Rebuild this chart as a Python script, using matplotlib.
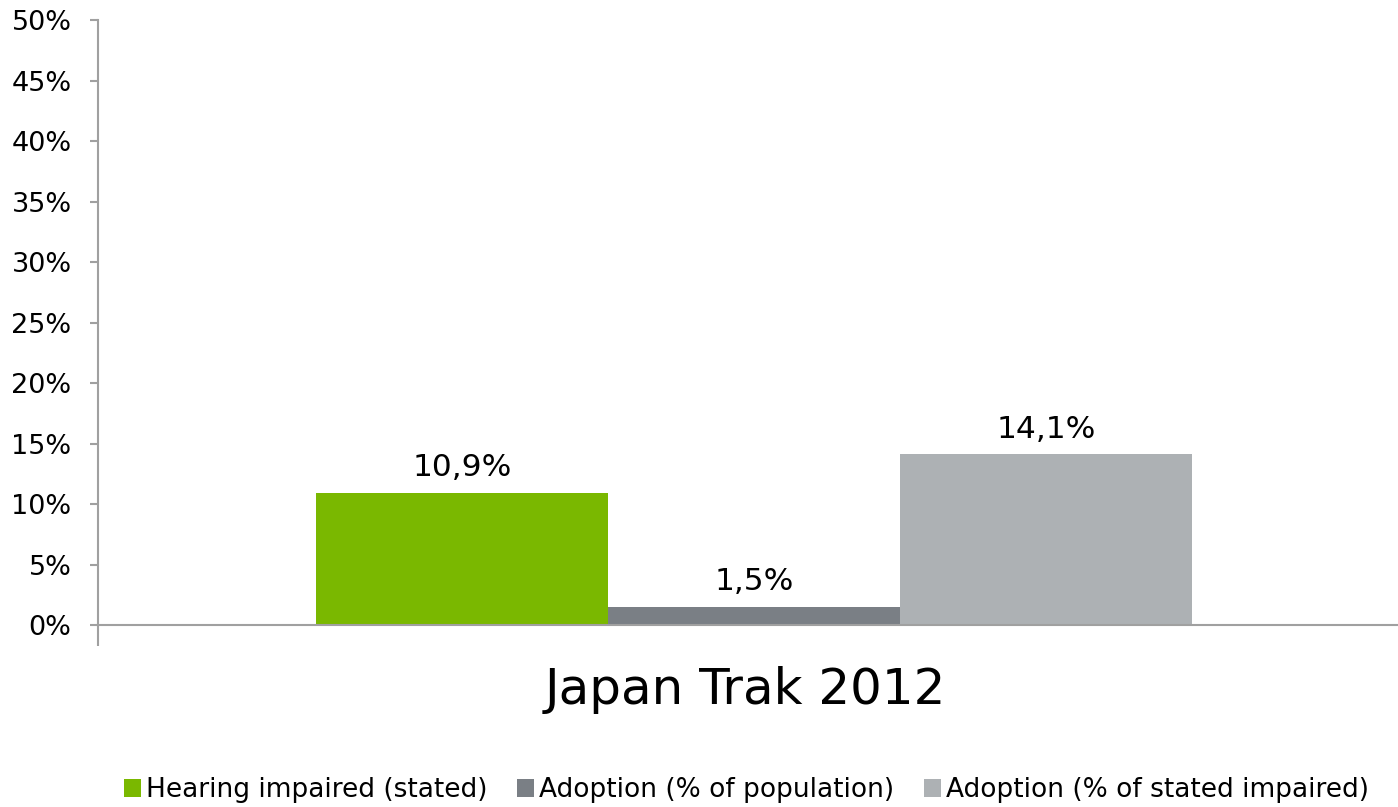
import numpy as np
import matplotlib.pyplot as plt
from matplotlib.ticker import MultipleLocator, PercentFormatter
from matplotlib.patches import Patch

# data
category = 'Japan Trak 2012'
series = ['Hearing impaired (stated)', 'Adoption (% of population)',
          'Adoption (% of stated impaired)']
values = [10.9, 1.5, 14.1]
value_labels = ['10,9%', '1,5%', '14,1%']
colors = ['#7AB800', '#7A7F85', '#ADB1B4']

fig = plt.figure(figsize=(13.98, 8.07), dpi=100)
# plot area runs a little past the right edge of the image
ax = fig.add_axes([0.0701, 0.2255, 0.9385, 0.7497])

width = 0.2226
offsets = (np.arange(len(values)) - 1) * width
for off, v, lab, c in zip(offsets, values, value_labels, colors):
    ax.bar(off, v, width=width, color=c, edgecolor='none')
    ax.text(off, v + 0.9, lab, ha='center', va='bottom', fontsize=22.5)

ax.set_xlim(-0.5, 0.5)
ax.set_ylim(0, 50)
ax.yaxis.set_major_locator(MultipleLocator(5))
ax.yaxis.set_major_formatter(PercentFormatter(decimals=0))

# category boundaries as ticks, category name under the axis
ax.set_xticks([-0.5, 0.5])
ax.set_xticklabels(['', ''])
ax.annotate(category, xy=(0, 0), xycoords=('data', 'axes fraction'),
            xytext=(-6.5, -47), textcoords='offset points',
            ha='center', va='center', fontsize=36)
ax.tick_params(axis='x', which='major', length=15, width=1.5, color='#A0A0A0', direction='out')
ax.tick_params(axis='y', length=6, width=1.5, color='#A0A0A0', labelsize=19.5, pad=13)

for s in ['top', 'right']:
    ax.spines[s].set_visible(False)
for s in ['left', 'bottom']:
    ax.spines[s].set_color('#A0A0A0')
    ax.spines[s].set_linewidth(1.5)

handles = [Patch(facecolor=c, edgecolor='none') for c in colors]
fig.legend(handles, series, loc='center', bbox_to_anchor=(0.534, 0.021),
           ncol=3, frameon=False, fontsize=19, handlelength=0.65, handleheight=0.65,
           handletextpad=0.2, columnspacing=1.1)

plt.savefig('out.png', dpi=100)
